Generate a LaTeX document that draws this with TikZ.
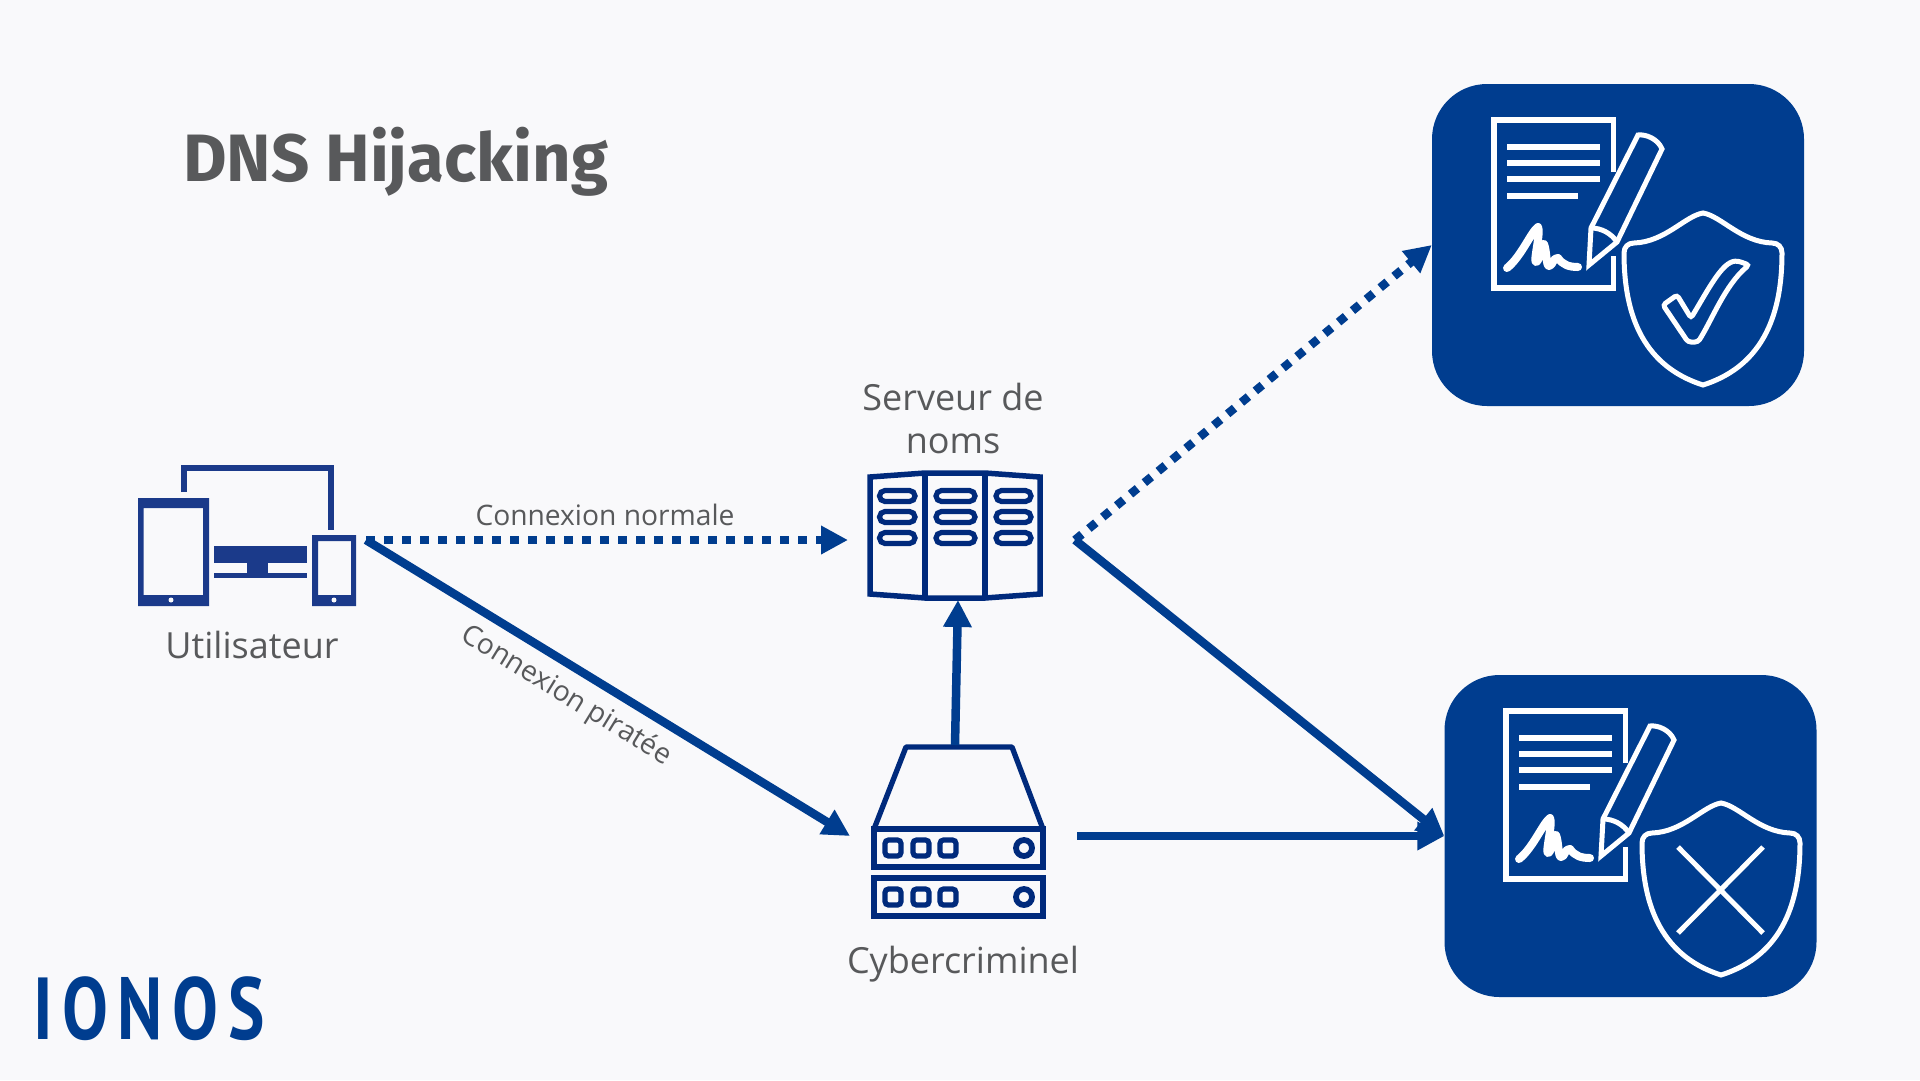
\documentclass[tikz,border=0pt]{standalone}
\usepackage{fontspec}
\usepackage{graphicx}
\usetikzlibrary{arrows.meta}
\setmainfont{Open Sans}
\newfontfamily\titlefont{Fira Sans}
\newfontfamily\logofont[LetterSpace=14]{PT Sans}
\definecolor{ionosblue}{HTML}{003D8F}
\definecolor{usercol}{HTML}{1B3A8A}
\definecolor{servcol}{HTML}{002A7C}
\definecolor{labelcol}{HTML}{58595B}
\definecolor{pagecol}{HTML}{F9F9FB}
\tikzset{
  link/.style={ionosblue,line width=8.5pt,-{Triangle[length=27pt,width=27pt]}},
  linkdot/.style={link,dash pattern=on 9pt off 9pt},
  panel/.style={fill=ionosblue,rounded corners=55pt,minimum width=372pt,minimum height=322pt,inner sep=0pt},
  lab/.style={text=labelcol,inner sep=0pt,font=\fontsize{36}{43}\selectfont},
  smalllab/.style={text=labelcol,inner sep=0pt,font=\fontsize{28.2}{33}\selectfont},
  slot/.style={servcol,line width=5.2pt,rounded corners=5.5pt},
  docpic/.pic={
    \draw [white,line width=5.5pt] (122.5,55) -- (122.5,3) -- (3,3) -- (3,171) -- (122.5,171) -- (122.5,139);
    \foreach \y in {30,46,62} \draw [white,line width=5.7pt] (16,\y) -- (109,\y);
    \draw [white,line width=5.7pt] (16,79) -- (87,79);
    % pencil
    \draw [white,line width=5pt,line join=miter] (98,148) -- (100,111) -- (147,18) .. controls (155,17) and (167,22) .. (171,32) -- (126,125) -- cycle;
    \draw [white,line width=5pt] (100,111) .. controls (110,111) and (120,116) .. (126,125);
    % signature
    \draw [white,line width=8pt,line cap=round,line join=round] (16,151) .. controls (30,140) and (40,115) .. (47,110) .. controls (50,115) and (42,145) .. (45,145) .. controls (49,145) and (50,125) .. (53,127) .. controls (56,135) and (55,149) .. (58,149) .. controls (62,149) and (62,140) .. (67,141) .. controls (72,148) and (78,150) .. (87,150);
  },
  shieldpic/.pic={
    \draw [white,line width=5pt] (0,0) .. controls (-18,3) and (-38,29) .. (-69,30) .. controls (-75,30) and (-79,34) .. (-79,40) .. controls (-79,97) and (-63,152) .. (0,172) .. controls (63,152) and (79,97) .. (79,40) .. controls (79,34) and (75,30) .. (69,30) .. controls (38,29) and (18,3) .. (0,0) -- cycle;
  }
}
\begin{document}
\begin{tikzpicture}[x=1pt,y=-1pt]
  \useasboundingbox [fill=pagecol] (0,0) rectangle (1920,1080);
  % title and logo
  \node (title) [anchor=base west,inner sep=0pt,text=labelcol,font=\titlefont\bfseries\fontsize{67}{67}\selectfont] at (183,181) {DNS Hijacking};
  \node (logo) [anchor=base west,inner sep=0pt,text=ionosblue,font=\logofont\bfseries\fontsize{88}{88}\selectfont] at (33,1039) {\scalebox{.78}[1]{IONOS}};

  % right hand panels
  \node (valid) [panel] at (1618,245) {};
  \node (forged) [panel] at (1630.5,836) {};
  \pic at (1491,117) {docpic};
  \pic at (1703,213) {shieldpic};
  \draw [white,line width=5pt,rounded corners=3pt] (1663,305) -- (1677,295) -- (1691,318) .. controls (1708,290) and (1722,262) .. (1738,261) -- (1749,265) .. controls (1725,285) and (1712,320) .. (1698,342) -- (1688,342) -- cycle;
  \pic at (1503,708) {docpic};
  \pic at (1721,803) {shieldpic};
  \draw [white,line width=5pt] (1678,847) -- (1763,933);
  \draw [white,line width=5pt] (1763,847) -- (1678,933);

  % user devices
  \draw [usercol,line width=5.3pt] (184,492) -- (184,468) -- (331,468) -- (331,530);
  \fill [usercol,even odd rule] (138,498) rectangle (209,606) (143.5,508) rectangle (203,595);
  \fill [pagecol] (171,600) circle (2.5);
  \fill [usercol,even odd rule] (312,535) rectangle (356,606) (318,541) rectangle (351,595);
  \fill [pagecol] (334,600) circle (2.5);
  \fill [usercol] (214,546) rectangle (307,563);
  \fill [usercol] (247,563) rectangle (268,573);
  \fill [usercol] (214,573) rectangle (307,578);

  % name server
  \draw [servcol,line width=5.5pt] (870,477) -- (925,473) -- (985,473) -- (1040,477) -- (1040,594) -- (985,598) -- (925,598) -- (870,594) -- cycle;
  \draw [servcol,line width=5.5pt] (925,473) -- (925,598);
  \draw [servcol,line width=5.5pt] (985,473) -- (985,598);
  \foreach \y in {496,517,538} {
    \draw [slot] (879.5,\y-5.5) rectangle (915,\y+5.5);
    \draw [slot] (936,\y-5.5) rectangle (975,\y+5.5);
    \draw [slot] (996,\y-5.5) rectangle (1031,\y+5.5);
  }

  % attacker server
  \draw [servcol,line width=5.3pt,line join=round] (874,829) -- (906,747) -- (1012,747) -- (1043,829);
  \foreach \y in {829,878} {
    \draw [servcol,line width=5.3pt] (874,\y) rectangle (1043,\y+38);
    \foreach \x in {893,921,948}
      \draw [servcol,line width=5.2pt,rounded corners=3.5pt] (\x-8,\y+11) rectangle (\x+8,\y+27);
    \draw [servcol,line width=5.8pt] (1024,\y+19) circle (8);
  }

  % labels
  \node (userlab) [lab,anchor=base] at (252,658) {Utilisateur};
  \node (servlab) [lab,anchor=base,align=center] at (953,453) {Serveur de\\noms};
  \node (cyberlab) [lab,anchor=base] at (963,973) {Cybercriminel};
  \node (normal) [smalllab,anchor=base] at (605,525) {Connexion normale};
  \node (pirate) [smalllab,rotate=-31.5] at (566,696) {Connexion piratée};

  % connector ends
  \coordinate (userport) at (366,540);
  \coordinate (servin) at (848,540);
  \coordinate (servout) at (1075,540);
  \coordinate (servbottom) at (958,600);
  \coordinate (cybertop) at (955,745);
  \coordinate (cyberin) at (850,836);
  \coordinate (cyberout) at (1077,836);

  \draw [linkdot] (userport) -- (servin);
  \draw [linkdot] (servout) -- (valid.west);
  \draw [link] (userport) -- (cyberin);
  \draw [link] (servout) -- (forged.west);
  \draw [link] (cyberout) -- (forged.west);
  \draw [link] (cybertop) -- (servbottom);
\end{tikzpicture}
\end{document}
